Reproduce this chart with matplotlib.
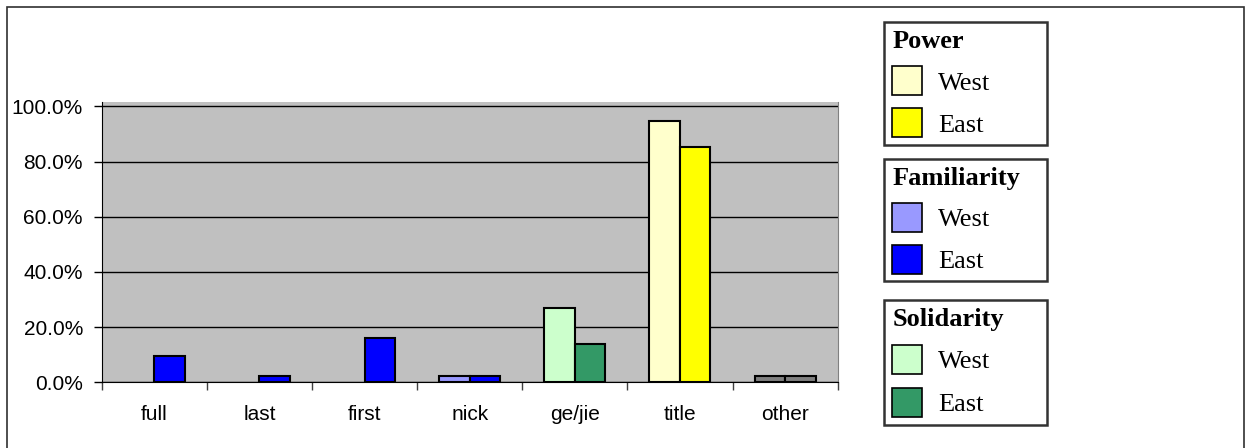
import matplotlib
matplotlib.use('Agg')
import matplotlib.pyplot as plt
from matplotlib.patches import Patch, Rectangle
from matplotlib.ticker import FuncFormatter
import numpy as np

# name forms used, share per group
categories = ['full', 'last', 'first', 'nick', 'ge/jie', 'title', 'other']
west = [0.0, 0.0, 0.0, 0.024, 0.268, 0.948, 0.024]
east = [0.095, 0.024, 0.16, 0.024, 0.1375, 0.854, 0.024]

# colour per category (west, east)
west_colors = ['#9999FF', '#9999FF', '#9999FF', '#9999FF', '#CCFFCC', '#FFFFCC', '#808080']
east_colors = ['#0000FF', '#0000FF', '#0000FF', '#0000FF', '#339966', '#FFFF00', '#808080']

legend_groups = [
    ('Power', '#FFFFCC', '#FFFF00'),
    ('Familiarity', '#9999FF', '#0000FF'),
    ('Solidarity', '#CCFFCC', '#339966'),
]

W, H = 1248, 448
fig = plt.figure(figsize=(W / 100, H / 100), dpi=100)
plt.rcParams['font.family'] = ['Liberation Sans', 'DejaVu Sans']


def fx(px):
    return px / W


def fy(py):
    return (H - py) / H


ax = fig.add_axes([fx(101.7), fy(382.3), fx(837.7) - fx(101.7), fy(102.3) - fy(382.3)])
ax.set_facecolor('#C0C0C0')

x = np.arange(len(categories))
bw = 0.29
# no outline on empty bars
lw_w = [1.5 if v > 0 else 0 for v in west]
lw_e = [1.5 if v > 0 else 0 for v in east]
ax.bar(x - bw / 2, west, bw, color=west_colors, edgecolor='black', linewidth=lw_w, zorder=3)
ax.bar(x + bw / 2, east, bw, color=east_colors, edgecolor='black', linewidth=lw_e, zorder=3)

ax.set_xlim(-0.5, len(categories) - 0.5)
ax.set_ylim(0, 1.0145)
ax.set_yticks(np.arange(0, 1.01, 0.2))
ax.yaxis.set_major_formatter(FuncFormatter(lambda v, p: '{:.1f}%'.format(v * 100)))
ax.grid(axis='y', color='black', linewidth=1.0, zorder=1)
ax.set_axisbelow(True)

ax.set_xticks(np.arange(-0.5, len(categories), 1.0))
ax.set_xticklabels([])
ax.set_xticks(x, minor=True)
ax.set_xticklabels(categories, minor=True)
ax.tick_params(axis='x', which='major', length=6, width=1, direction='out', color='#404040')
ax.tick_params(axis='x', which='minor', length=0, pad=16, labelsize=15)
ax.tick_params(axis='y', length=6, width=1, direction='out', pad=7.5, labelsize=15)

ax.spines['top'].set_visible(False)
ax.spines['right'].set_color('#808080')
ax.spines['left'].set_color('black')
ax.spines['bottom'].set_color('black')

# legends, one box per dimension
tops = [22.3, 158.7, 300.0]
spacings = [0.5, 0.5, 0.54]
for (name, cw, ce), top, sp in zip(legend_groups, tops, spacings):
    handles = [Patch(facecolor=cw, edgecolor='black', linewidth=1.2),
               Patch(facecolor=ce, edgecolor='black', linewidth=1.2)]
    leg = fig.legend(handles, ['West', 'East'], loc='upper left',
                     bbox_to_anchor=(fx(884.3), fy(top), fx(1046.7) - fx(884.3), 0),
                     mode='expand', borderaxespad=0, fancybox=False,
                     prop={'family': 'Liberation Serif', 'size': 19},
                     title=name,
                     title_fontproperties={'family': 'Liberation Serif', 'size': 19, 'weight': 'bold'},
                     alignment='left', handlelength=1.12, handleheight=1.3,
                     handletextpad=0.62, labelspacing=sp, borderpad=0.3)
    leg.get_frame().set_edgecolor('black')
    leg.get_frame().set_linewidth(1.8)

# outer chart border
fig.patches.append(Rectangle((fx(7), -0.05), fx(1243.7) - fx(7), fy(6.7) + 0.05,
                             transform=fig.transFigure, fill=False,
                             edgecolor='#303030', linewidth=1.2))

fig.savefig('out.png', dpi=100)
